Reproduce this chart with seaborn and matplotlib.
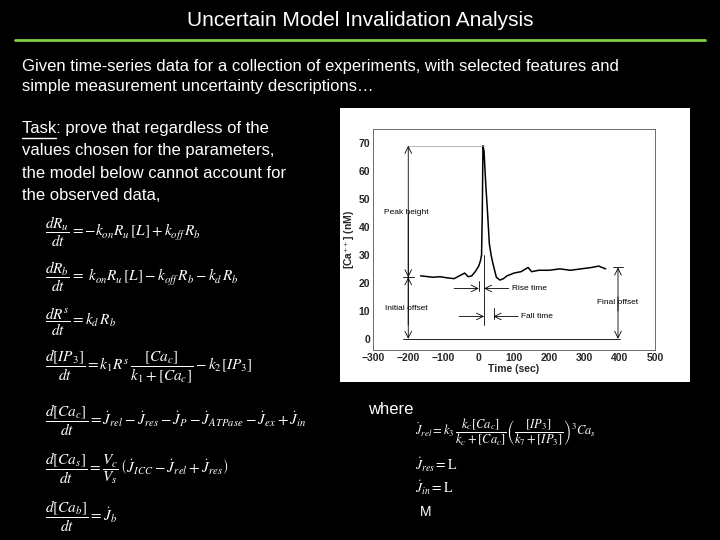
import matplotlib
matplotlib.use("Agg")
import matplotlib.pyplot as plt
import seaborn as sns
import pandas as pd
from matplotlib.patches import Rectangle

# Calcium trace
time_sec = [-165, -150, -130, -110, -90, -70, -55, -40, -30, -20, -10, 0, 5, 8, 10, 12, 15,
            20, 25, 30, 35, 40, 50, 60, 70, 80, 90, 100, 120, 140, 150, 170, 200, 230,
            260, 290, 320, 340, 360]
ca_nm = [22.5, 22.3, 22.0, 22.2, 21.8, 21.5, 22.5, 23.5, 22.2, 22.5, 24.0, 26.0, 28.0, 30.0,
         45.0, 69.0, 67.0, 55.0, 45.0, 34.0, 30.0, 27.0, 22.0, 21.0, 21.5, 22.5, 23.0, 23.5,
         24.0, 25.5, 24.0, 24.5, 24.5, 25.0, 24.5, 25.0, 25.5, 26.0, 25.0]
x_ticks = [-300, -200, -100, 0, 100, 200, 300, 400, 500]
y_ticks = [0, 10, 20, 30, 40, 50, 60, 70]

sns.set_theme(style="white")
plt.rcParams["font.family"] = ["Liberation Sans", "DejaVu Sans"]
plt.rcParams["mathtext.fontset"] = "stix"

fig = plt.figure(figsize=(7.2, 5.4), dpi=100)
fig.patch.set_facecolor("black")

def T(x, y, s, **kw):
    kw.setdefault("color", "white")
    kw.setdefault("fontsize", 12)
    fig.text(x / 720, 1 - y / 540, s, va="center", **kw)

T(360, 20, "Uncertain Model Invalidation Analysis", ha="center", fontsize=15)
fig.add_artist(plt.Line2D([15 / 720, 705 / 720], [1 - 40 / 540] * 2, color="#7fd040", lw=2))
T(22, 66, "Given time-series data for a collection of experiments, with selected features and")
T(22, 87, "simple measurement uncertainty descriptions\u2026")
T(22, 129, "Task: prove that regardless of the")
fig.add_artist(plt.Line2D([22 / 720, 56 / 720], [1 - 138 / 540] * 2, color="white", lw=1))
T(22, 151, "values chosen for the parameters,")
T(22, 173, "the model below cannot account for")
T(22, 195, "the observed data,")

eqs = [
    (232, r"$\dfrac{dR_u}{dt} = -k_{on}R_u\,\left[L\right] + k_{off}\,R_b$"),
    (277, r"$\dfrac{dR_b}{dt} = \ k_{on}R_u\,\left[L\right] - k_{off}\,R_b - k_d\,R_b$"),
    (322, r"$\dfrac{dR^s}{dt} = k_d\,R_b$"),
    (367, r"$\dfrac{d[IP_3]}{dt} = k_1 R^s\,\dfrac{[Ca_c]}{k_1+[Ca_c]} - k_2[IP_3]$"),
    (420, r"$\dfrac{d[Ca_c]}{dt} = \dot{J}_{rel} - \dot{J}_{res} - \dot{J}_{P} - \dot{J}_{ATPase} - \dot{J}_{ex} + \dot{J}_{in}$"),
    (468, r"$\dfrac{d[Ca_s]}{dt} = \dfrac{V_c}{V_s}\,\left(\dot{J}_{ICC} - \dot{J}_{rel} + \dot{J}_{res}\right)$"),
    (516, r"$\dfrac{d[Ca_b]}{dt} = \dot{J}_{b}$"),
]
for y, s in eqs:
    T(45, y, s, fontsize=11)

T(368, 410, "where")
T(415, 432, r"$\dot{J}_{rel} = k_3\,\dfrac{k_c[Ca_c]}{k_c+[Ca_c]}\left(\dfrac{[IP_3]}{k_7+[IP_3]}\right)^3 Ca_s$", fontsize=9)
T(415, 465, r"$\dot{J}_{res} = \mathrm{L}$", fontsize=10)
T(415, 488, r"$\dot{J}_{in} = \mathrm{L}$", fontsize=10)
T(420, 512, "M", fontsize=10)

# white backdrop of the inset figure
fig.add_artist(Rectangle((340 / 720, 1 - 382 / 540), 350 / 720, 274 / 540,
                         transform=fig.transFigure, facecolor="white", edgecolor="none", zorder=0))

ax = fig.add_axes([373 / 720, 190 / 540, 282 / 720, 221 / 540])
ax.set_facecolor("white")
df = pd.DataFrame({"Time (sec)": time_sec, "Ca": ca_nm})
sns.lineplot(data=df, x="Time (sec)", y="Ca", ax=ax, color="black", lw=1.1)
ax.set_xlim(-300, 500)
ax.set_ylim(-4, 75)
ax.set_xticks(x_ticks)
ax.set_yticks(y_ticks)
ax.tick_params(labelsize=7.5, length=2, direction="in", pad=2)
for lab in ax.get_xticklabels() + ax.get_yticklabels():
    lab.set_fontweight("bold")
ax.set_xlabel("Time (sec)", fontsize=7.5, fontweight="bold", labelpad=1)
ax.set_ylabel(r"[Ca$^{++}$] (nM)", fontsize=7.5, fontweight="bold", labelpad=1)
for sp in ax.spines.values():
    sp.set_color("#555555")
    sp.set_linewidth(0.6)

lk = dict(color="black", lw=0.6)
arr = dict(arrowstyle="->", color="black", lw=0.6, shrinkA=0, shrinkB=0)
ax.plot([-215, 400], [0, 0], **lk)
ax.plot([-200, 15], [69, 69], color="#999999", lw=0.5)
ax.plot([-215, -185], [22, 22], **lk)
ax.annotate("", xy=(-200, 69), xytext=(-200, 22), arrowprops=arr)
ax.annotate("", xy=(-200, 22), xytext=(-200, 45), arrowprops=arr)
ax.annotate("", xy=(-200, 0), xytext=(-200, 22), arrowprops=arr)
ax.annotate("", xy=(-200, 22), xytext=(-200, 5), arrowprops=arr)
ax.plot([380, 410], [25.5, 25.5], **lk)
ax.annotate("", xy=(395, 25.5), xytext=(395, 10), arrowprops=arr)
ax.annotate("", xy=(395, 0), xytext=(395, 15), arrowprops=arr)
ax.plot([0, 0], [20.5, 17], **lk)
ax.plot([15, 15], [30, 5], **lk)
ax.plot([42, 42], [11, 7], **lk)
ax.annotate("", xy=(0, 18), xytext=(-70, 18), arrowprops=arr)
ax.annotate("", xy=(15, 18), xytext=(85, 18), arrowprops=arr)
ax.annotate("", xy=(15, 8), xytext=(-55, 8), arrowprops=arr)
ax.annotate("", xy=(42, 8), xytext=(112, 8), arrowprops=arr)
tk = dict(fontsize=6, color="black", va="center")
ax.text(-270, 45, "Peak height", **tk)
ax.text(-265, 11, "Initial offset", **tk)
ax.text(95, 18, "Rise time", **tk)
ax.text(120, 8, "Fall time", **tk)
ax.text(335, 13, "Final offset", **tk)

fig.savefig("out.png", dpi=100, facecolor="black")
